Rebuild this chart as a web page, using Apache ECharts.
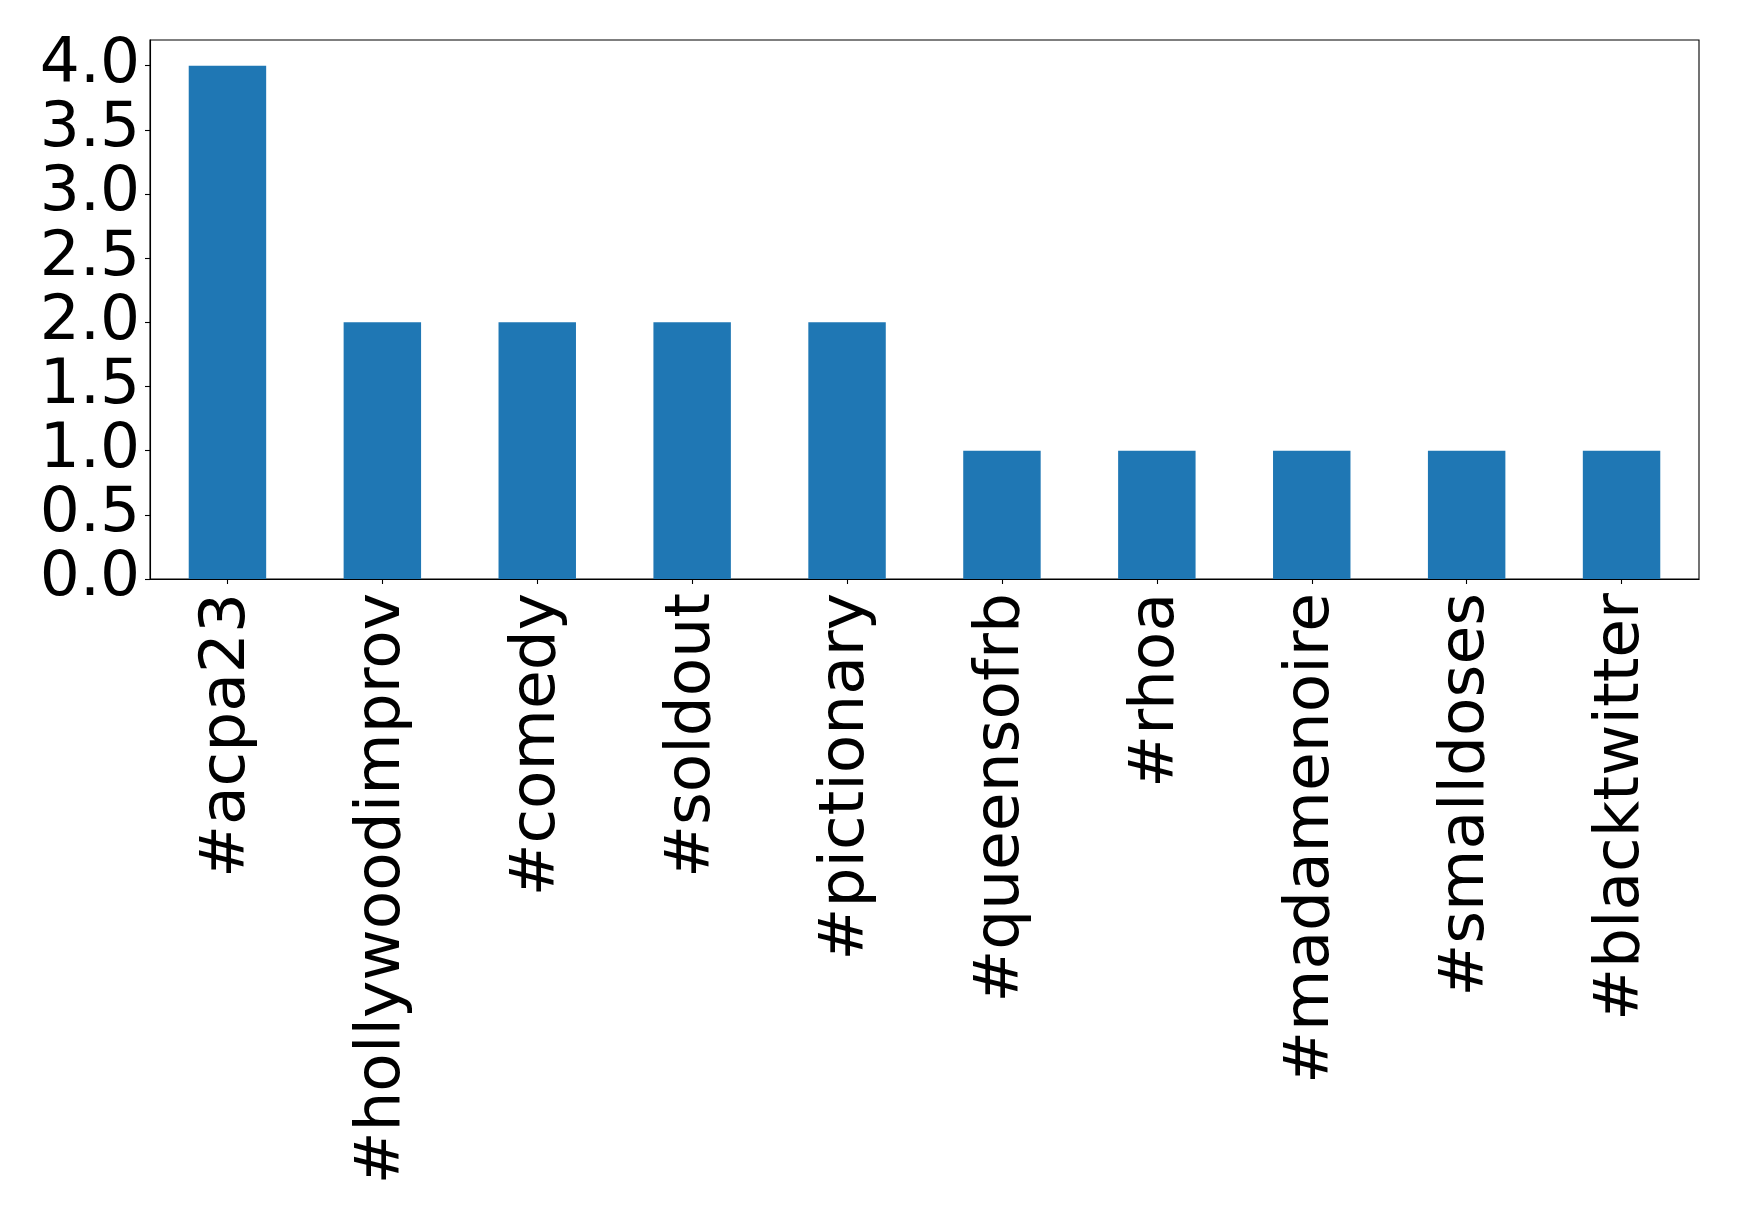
<!DOCTYPE html>
<html>
<head>
<meta charset="utf-8">
<script src="https://cdn.jsdelivr.net/npm/echarts@6/dist/echarts.min.js"></script>
<style>
html,body{margin:0;padding:0;background:#fff;}
#chart{width:1739px;height:1215px;}
</style>
</head>
<body>
<div id="chart"></div>
<script>
const categories = ['#acpa23', '#hollywoodimprov', '#comedy', '#soldout', '#pictionary', '#queensofrb', '#rhoa', '#madamenoire', '#smalldoses', '#blacktwitter'];
const counts = [4, 2, 2, 2, 2, 1, 1, 1, 1, 1];
const yTicks = [0, 0.5, 1, 1.5, 2, 2.5, 3, 3.5, 4];

const chart = echarts.init(document.getElementById('chart'), null, {renderer: 'canvas'});
const font = 'DejaVu Sans';
chart.setOption({
  animation: false,
  backgroundColor: '#ffffff',
  grid: {
    left: 150, top: 40, right: 40, bottom: 636,
    show: true, borderColor: '#000', borderWidth: 1.1, backgroundColor: 'transparent'
  },
  xAxis: {
    type: 'category',
    data: categories,
    boundaryGap: true,
    axisLine: {show: true, lineStyle: {color: '#000', width: 1.1}},
    axisTick: {show: true, alignWithLabel: true, length: 5, lineStyle: {color: '#000', width: 1.1}},
    axisLabel: {
      rotate: 90, interval: 0, margin: 14,
      color: '#000', fontFamily: font, fontSize: 63
    },
    splitLine: {show: false}
  },
  yAxis: {
    type: 'value',
    min: 0, max: 4.2, interval: 0.5,
    axisLine: {show: true, lineStyle: {color: '#000', width: 1.1}},
    axisTick: {show: true, length: 5, lineStyle: {color: '#000', width: 1.1}, customValues: yTicks},
    axisLabel: {
      margin: 10, color: '#000', fontFamily: font, fontSize: 63,
      customValues: yTicks,
      formatter: v => v.toFixed(1)
    },
    splitLine: {show: false}
  },
  series: [{
    type: 'bar',
    data: counts,
    barWidth: '50%',
    itemStyle: {color: '#1f77b4'}
  }]
});
</script>
</body>
</html>
